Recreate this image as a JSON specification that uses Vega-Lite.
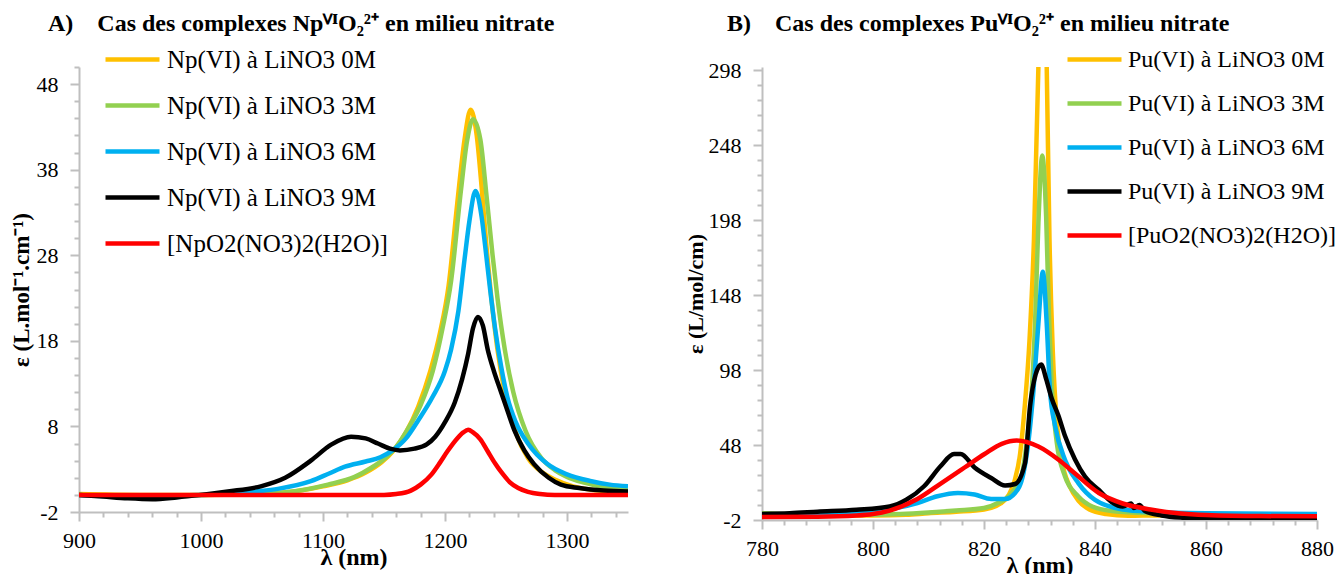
{
  "$schema": "https://vega.github.io/schema/vega-lite/v6.json",
  "background": "white",
  "padding": {"left": 10, "top": 12, "right": 0, "bottom": 0},
  "config": {
    "view": {"stroke": null},
    "font": "Liberation Serif",
    "axis": {
      "labelFont": "Liberation Serif", "labelFontSize": 22, "labelColor": "#000000",
      "titleFont": "Liberation Serif", "titleFontSize": 22, "titleFontWeight": "bold", "titleColor": "#000000",
      "domainColor": "#bfbfbf", "domainWidth": 2, "tickColor": "#bfbfbf", "tickWidth": 2,
      "grid": false, "labelFlush": false, "labelOverlap": false, "format": "d"
    },
    "legend": {
      "orient": "none", "title": null, "symbolType": "stroke", "symbolSize": 2916, "symbolStrokeWidth": 4.5,
      "labelFont": "Liberation Serif", "labelFontSize": 25, "labelColor": "#000000", "labelOffset": 5,
      "labelLimit": 0, "padding": 0
    },
    "title": {"font": "Liberation Serif", "fontSize": 24, "fontWeight": "bold", "color": "#000000", "anchor": "start", "frame": "group"}
  },
  "datasets": {
    "np": [
      {"s": "Np(VI) à LiNO3 0M", "nm": [900,950,1000,1040,1070,1100,1120,1135,1148,1158,1168,1178,1188,1196,1203,1210,1216,1221,1226,1230,1234,1238,1243,1249,1258,1268,1280,1290,1305,1320,1335,1350],
        "eps": [0.1,0,0,0.1,0.3,1.0,1.7,2.6,3.8,5.2,7.3,10.3,14.5,19,24.5,34,41.5,45.0,42,36,29,23,17,12,7.3,4.3,2.6,1.8,1.0,0.6,0.4,0.3]},
      {"s": "Np(VI) à LiNO3 3M", "nm": [900,950,1000,1040,1070,1104,1126,1140,1150,1160,1170,1180,1190,1198,1205,1213,1218,1223,1229,1234,1239,1243,1249,1256,1266,1279,1290,1300,1315,1330,1350],
        "eps": [0,-0.1,0,0.1,0.3,1.2,2.1,3.2,4.2,5.6,7.8,10.5,14.5,19.5,25,35.5,41.3,43.9,41.5,35,28,23,17,12,7.5,4.3,2.9,2.1,1.4,0.9,0.6]},
      {"s": "Np(VI) à LiNO3 6M", "nm": [900,940,970,1000,1022,1045,1063,1090,1105,1118,1135,1147,1157,1168,1178,1190,1200,1205,1211,1216,1220,1225,1230,1233,1237,1241,1246,1251,1258,1268,1284,1300,1320,1335,1350],
        "eps": [0,-0.2,-0.1,0,0.1,0.4,0.7,1.6,2.5,3.3,3.9,4.4,5.2,6.6,8.7,11.5,14.5,17,21.5,27.5,32,35.5,32.5,29,24,19.5,15,11.5,8.5,6.0,3.6,2.4,1.6,1.2,1.0]},
      {"s": "Np(VI) à LiNO3 9M", "nm": [900,920,940,960,980,1000,1022,1049,1069,1090,1107,1123,1135,1145,1155,1163,1175,1185,1192,1200,1208,1214,1219,1223,1227,1231,1235,1240,1246,1252,1257,1265,1273,1285,1295,1310,1330,1350],
        "eps": [0,-0.2,-0.4,-0.5,-0.3,0,0.4,1.0,2.0,4.0,5.9,6.8,6.6,6.0,5.4,5.2,5.4,5.9,6.8,8.5,10.8,13.5,16.5,19.5,20.8,19.8,17,14.5,12,9.5,7.5,5.2,3.6,2.0,1.2,0.8,0.5,0.4]},
      {"s": "[NpO2(NO3)2(H2O)]", "nm": [900,1000,1100,1150,1160,1172,1180,1189,1196,1202,1210,1215,1219,1223,1229,1235,1241,1247,1253,1260,1268,1278,1290,1350],
        "eps": [0,0,0,0,0.1,0.5,1.2,2.4,3.8,5.1,6.6,7.3,7.6,7.3,6.5,5.1,3.7,2.5,1.5,0.8,0.35,0.1,0,0]}
    ],
    "pu": [
      {"s": "Pu(VI) à LiNO3 0M", "nm": [780,790,800,806,810,815,820,823,824.5,825.5,826.5,827.3,828.2,829,829.8,830.5,831.3,831.8,832.4,833.2,834,835.5,837,839,842,846,850,860,870,880],
        "eps": [1.5,1,1,1.5,2.5,3.5,5,9,15,24,42,72,118,185,300,420,300,185,110,60,38,20,11,5,2,0.8,1,1.5,1.5,1.5]},
      {"s": "Pu(VI) à LiNO3 3M", "nm": [780,790,800,805,810,815,820,822.5,825,826.8,827.7,828.6,829.2,829.8,830.5,831.2,831.7,832.2,833.1,834.6,837,839.5,843,850,860,870,880],
        "eps": [2.5,1.5,1.5,2,3,4.3,6,9.3,16,28,50,84,129,196,241,200,135,88,50,27,13.7,7,4,2.5,2,1.8,1.5]},
      {"s": "Pu(VI) à LiNO3 6M", "nm": [780,790,797,803,808,811.6,815.3,818.3,821.3,823.8,825.6,827.1,828,828.9,829.8,830.6,831.3,831.9,832.8,834.6,837,840,845,850,860,880],
        "eps": [1.5,2,2.9,5.2,9.3,13.8,16,15,12,12,16,29,50,84,129,163.5,129,84,61,38,22.6,11.4,5,3.5,2.5,2]},
      {"s": "Pu(VI) à LiNO3 9M", "nm": [780,785,790,797,803,806,809.2,812.2,814.6,815.8,818.3,821.3,823.8,825.6,827.4,828.3,829.3,830.3,831.2,832.2,833.4,834.6,836.4,838.2,840.7,843,845,846.5,847,848,849,852,856,860,870,880],
        "eps": [2,2.5,3.5,4.8,7,11.5,20.5,34,42,42,33,26,21,22,36,74,95,101.6,92,79,67.7,54,38.4,27,18,10,7,9,6,8,4,1,-0.5,-1,-1,-1]},
      {"s": "[PuO2(NO3)2(H2O)]", "nm": [780,790,797,800,803,808,812.2,816.5,820.1,823.2,825.9,829.8,833.5,836.4,840.7,845,850,855,860,870,880],
        "eps": [0,0.2,1,2,4.3,12,22.3,33,42,48.8,51,47,38,29,16,9,5,2.5,1.3,0.6,0.5]}
    ]
  },
  "spacing": 56,
  "resolve": {"scale": {"color": "independent"}, "legend": {"color": "independent"}},
  "hconcat": [
    {
      "width": 549, "height": 445,
      "title": {"text": "A)\u00a0\u00a0\u00a0\u00a0Cas des complexes NpⱽᴵO₂²⁺ en milieu nitrate", "dx": -31, "offset": -6},
      "data": {"name": "np"},
      "transform": [{"flatten": ["nm", "eps"]}],
      "mark": {"type": "line", "strokeWidth": 4.5, "interpolate": "monotone", "clip": true},
      "encoding": {
        "x": {"field": "nm", "type": "quantitative", "scale": {"domain": [900, 1350], "nice": false, "zero": false},
          "axis": {"orient": "bottom", "values": [900,920,940,960,980,1000,1020,1040,1060,1080,1100,1120,1140,1160,1180,1200,1220,1240,1260,1280,1300,1320,1340],
            "labelExpr": "datum.value % 100 === 0 ? datum.label : ''",
            "tickSize": 9, "tickDash": {"condition": {"test": "datum.value % 100 === 0", "value": [20, 0]}, "value": [5, 20]},
            "title": "λ (nm)", "titleFontSize": 24, "labelPadding": 9, "titlePadding": -6}},
        "y": {"field": "eps", "type": "quantitative", "scale": {"domain": [-2, 50], "nice": false, "zero": false},
          "axis": {"orient": "left", "values": [-2,0,2,4,6,8,10,12,14,16,18,20,22,24,26,28,30,32,34,36,38,40,42,44,46,48,50],
            "labelExpr": "(datum.value + 2) % 10 === 0 ? replace(datum.label, '−', '-') : ''",
            "tickSize": 9, "tickDash": {"condition": {"test": "(datum.value + 2) % 10 === 0", "value": [20, 0]}, "value": [5, 20]},
            "title": "ε (L.mol⁻¹.cm⁻¹)", "titleFontSize": 23, "labelPadding": 12, "titlePadding": 3}},
        "color": {"field": "s", "type": "nominal", "sort": null,
          "scale": {"domain": ["Np(VI) à LiNO3 0M", "Np(VI) à LiNO3 3M", "Np(VI) à LiNO3 6M", "Np(VI) à LiNO3 9M", "[NpO2(NO3)2(H2O)]"],
            "range": ["#FFC000", "#92D050", "#00B0F0", "#000000", "#FF0000"]},
          "legend": {"legendX": 24, "legendY": -37, "rowPadding": 3}}
      }
    },
    {
      "width": 555, "height": 453,
      "title": {"text": "B)\u00a0\u00a0\u00a0\u00a0Cas des complexes PuⱽᴵO₂²⁺ en milieu nitrate", "dx": -35, "offset": -6},
      "data": {"name": "pu"},
      "transform": [{"flatten": ["nm", "eps"]}],
      "mark": {"type": "line", "strokeWidth": 4.5, "interpolate": "monotone", "clip": true},
      "encoding": {
        "x": {"field": "nm", "type": "quantitative", "scale": {"domain": [780, 880], "nice": false, "zero": false},
          "axis": {"orient": "bottom", "values": [780,784,788,792,796,800,804,808,812,816,820,824,828,832,836,840,844,848,852,856,860,864,868,872,876,880],
            "labelExpr": "datum.value % 20 === 0 ? datum.label : ''",
            "tickSize": 9, "tickDash": {"condition": {"test": "datum.value % 20 === 0", "value": [20, 0]}, "value": [5, 20]},
            "title": "λ (nm)", "titleFontSize": 24, "labelPadding": 9, "titlePadding": -6}},
        "y": {"field": "eps", "type": "quantitative", "scale": {"domain": [-2, 300], "nice": false, "zero": false},
          "axis": {"orient": "left", "values": [-2,8,18,28,38,48,58,68,78,88,98,108,118,128,138,148,158,168,178,188,198,208,218,228,238,248,258,268,278,288,298],
            "labelExpr": "(datum.value + 2) % 50 === 0 ? replace(datum.label, '−', '-') : ''",
            "tickSize": 9, "tickDash": {"condition": {"test": "(datum.value + 2) % 50 === 0", "value": [20, 0]}, "value": [5, 20]},
            "title": "ε (L/mol/cm)", "labelPadding": 12, "titlePadding": 1}},
        "color": {"field": "s", "type": "nominal", "sort": null,
          "scale": {"domain": ["Pu(VI) à LiNO3 0M", "Pu(VI) à LiNO3 3M", "Pu(VI) à LiNO3 6M", "Pu(VI) à LiNO3 9M", "[PuO2(NO3)2(H2O)]"],
            "range": ["#FFC000", "#92D050", "#00B0F0", "#000000", "#FF0000"]},
          "legend": {"legendX": 303, "legendY": -37, "rowPadding": 2, "labelFontSize": 24, "labelOffset": 4}}
      }
    }
  ]
}
